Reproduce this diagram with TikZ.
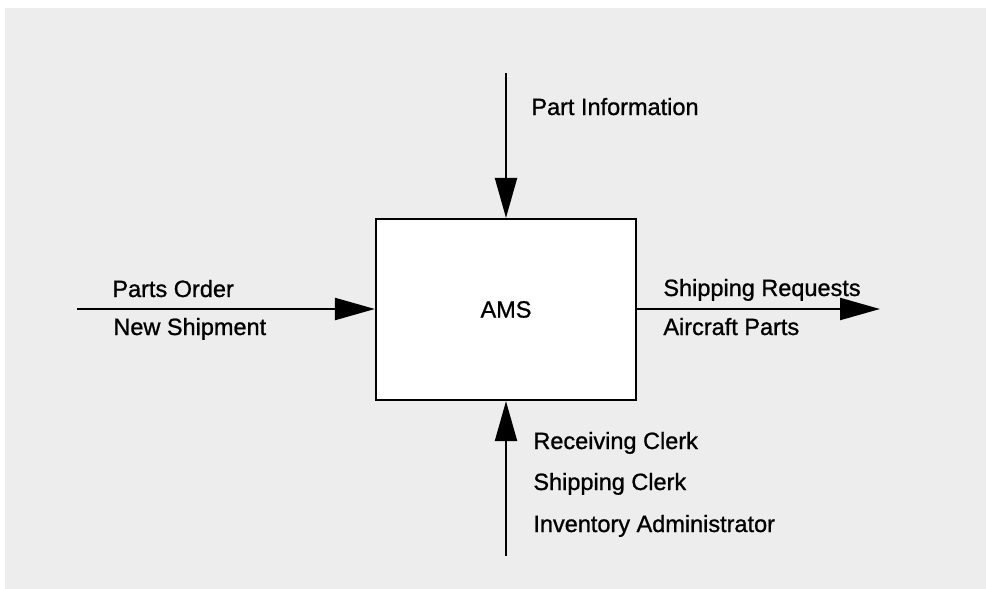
\documentclass[tikz,border=0pt]{standalone}
\usepackage{fontspec}
\setmainfont[FakeBold=1]{Liberation Sans}
\usetikzlibrary{arrows.meta}
\begin{document}
\begin{tikzpicture}[x=0.5pt,y=-0.5pt,
  flow/.style={line width=1.1pt,-{Triangle[length=20pt,width=11pt]}},
  lbl/.style={anchor=base west,inner sep=0pt,font=\fontsize{11.75pt}{14pt}\selectfont},
  proc/.style={draw,line width=1.1pt,fill=white,minimum width=130pt,minimum height=90.5pt,
    inner sep=0pt,font=\fontsize{11.75pt}{14pt}\selectfont}]
\useasboundingbox (0,0) rectangle (986,589);
% stippled paper tone
\fill[gray!14] (5,8) rectangle (986,589);

% the activity box
\node[proc] (ams) at (506,309.5) {AMS};

% free ends of the four flows
\coordinate (ctlsrc) at (506,73);
\coordinate (insrc) at (77,309);
\coordinate (outend) at (880,309);
\coordinate (mechsrc) at (506,556);

% control (top), input (left), output (right), mechanism (bottom)
\draw[flow] (ctlsrc) -- (ams.north);
\draw[flow] (insrc) -- (insrc -| ams.west);
\draw[flow] (ams.east |- outend) -- (outend);
\draw[flow] (mechsrc) -- (ams.south);

% flow labels
\node[lbl] (partinfo) at (531,115) {Part Information};
\node[lbl] (partsorder) at (112,297) {Parts Order};
\node[lbl] (newship) at (113,335) {New Shipment};
\node[lbl] (shipreq) at (663,296) {Shipping Requests};
\node[lbl] (acparts) at (663,335) {Aircraft Parts};
\node[lbl] (recclerk) at (533,449) {Receiving Clerk};
\node[lbl] (shipclerk) at (533,490) {Shipping Clerk};
\node[lbl] (invadmin) at (533,532) {Inventory Administrator};
\end{tikzpicture}
\end{document}
